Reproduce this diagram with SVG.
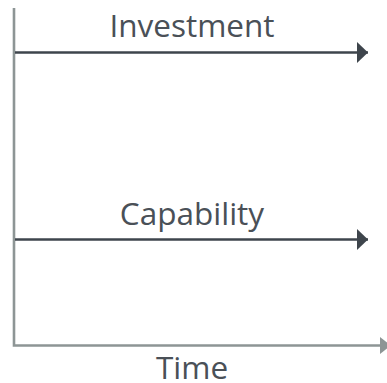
<svg xmlns="http://www.w3.org/2000/svg" width="387" height="383" viewBox="0 0 387 383">
<style>
.lbl{font-family:"Open Sans","Noto Sans",sans-serif;font-size:31.5px;fill:#4a5057;text-anchor:middle}
.axis{stroke:#8d9595;stroke-width:2.6;fill:none}
.arr{stroke:#3e454c;stroke-width:2.6;fill:none}
</style>
<defs>
<marker id="ah" markerUnits="userSpaceOnUse" markerWidth="12" markerHeight="22" refX="11" refY="10.5" orient="auto"><path d="M0,0 L11,10.5 L0,21 Z" fill="#3e454c"/></marker>
</defs>
<g id="connectors">
<path class="axis" d="M14,8 L14,345.5 L380,345.5" />
<path d="M380,337 L391,345.5 L380,354 Z" fill="#8d9595"/>
<line class="arr" x1="15" y1="52.5" x2="368" y2="52.5" marker-end="url(#ah)"/>
<line class="arr" x1="15" y1="239.5" x2="368" y2="239.5" marker-end="url(#ah)"/>
</g>
<g id="investment"><text class="lbl" x="192" y="37">Investment</text></g>
<g id="capability"><text class="lbl" x="192" y="225">Capability</text></g>
<g id="time"><text class="lbl" x="192" y="379">Time</text></g>
</svg>
